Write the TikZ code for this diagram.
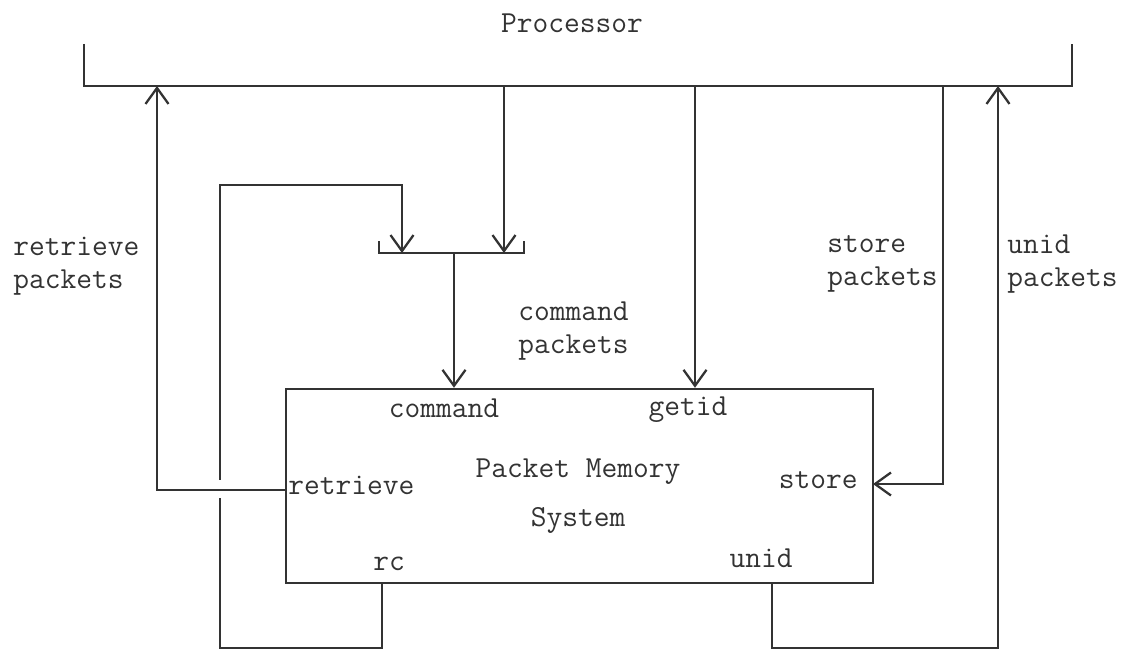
\documentclass[tikz,border=0pt]{standalone}
\usepackage{fontspec}
\usepackage{xcolor}
\definecolor{InkGray}{rgb}{0.2, 0.2, 0.2}
\usetikzlibrary{arrows.meta, positioning}

\begin{document}
\begin{tikzpicture}[
    x=2cm, y=-2cm,
    font=\ttfamily\fontsize{17.4}{18.8}\selectfont,
    >={Straight Barb[length=0.32cm, width=0.46cm, line width=1.3pt]},
    wire/.style={InkGray, line width=1.4pt},
    flow_line/.style={wire, ->},
    pm_box/.style={draw=InkGray, line width=1.4pt, minimum width=11.74cm, minimum height=3.88cm, inner sep=0pt},
    port_label/.style={text=InkGray, inner sep=0pt, text height=0.65em, text depth=0.2em},
    flow_label/.style={text=InkGray, inner sep=0pt, align=left}
]
    \useasboundingbox (0,0) rectangle (11.29,6.54);

    % 1. PROCESSOR BUS
    \node[port_label] (proc) at (5.72,0.29) {Processor};
    \draw[wire] (0.84,0.44) -- (0.84,0.86) -- (10.72,0.86) -- (10.72,0.44);
    \coordinate (tap_ret) at (1.57,0.86);
    \coordinate (tap_cmd) at (5.04,0.86);
    \coordinate (tap_get) at (6.95,0.86);
    \coordinate (tap_sto) at (9.43,0.86);
    \coordinate (tap_unid) at (9.98,0.86);

    % 2. PACKET MEMORY SYSTEM
    \node[pm_box] (pms) at (5.795,4.86) {};
    \node[text=InkGray, align=center] (pm_name) at (5.78,4.96) {Packet Memory\\[9pt]System};
    \node[port_label] (lbl_cmd) at (4.44,4.14) {command};
    \node[port_label] (lbl_get) at (6.88,4.12) {getid};
    \node[port_label, anchor=west] (lbl_ret) at (2.88,4.91) {retrieve};
    \node[port_label, anchor=east] (lbl_sto) at (8.58,4.85) {store};
    \node[port_label] (lbl_rc) at (3.89,5.67) {rc};
    \node[port_label] (lbl_unid) at (7.61,5.64) {unid};
    \coordinate (ret_port) at (2.86,4.90);
    \coordinate (sto_port) at (8.73,4.84);
    \coordinate (rc_port) at (3.82,5.83);
    \coordinate (unid_port) at (7.72,5.83);

    % 3. COMMAND MERGE
    \draw[wire] (3.79,2.41) -- (3.79,2.53) -- (5.24,2.53) -- (5.24,2.41);
    \coordinate (mrg_rc) at (4.02,2.53);
    \coordinate (mrg_cmd) at (5.04,2.53);
    \coordinate (mrg_out) at (4.54,2.53);
    \draw[flow_line] (tap_cmd) -- (mrg_cmd);
    \draw[flow_line] (rc_port) -- ++(0,0.65) -| (2.20,1.85) -| (mrg_rc);
    \draw[flow_line] (mrg_out) -- (mrg_out |- pms.north);
    \node[flow_label, anchor=west] (lbl_cmdp) at (5.18,3.315) {command\\packets};

    % 4. RETRIEVE (crosses the rc loop)
    \draw[white, line width=3pt] (2.20,4.80) -- (2.20,4.98);
    \draw[flow_line] (ret_port) -| (tap_ret);
    \node[flow_label, anchor=west] (lbl_retp) at (0.13,2.665) {retrieve\\packets};

    % 5. GETID, STORE, UNID
    \draw[flow_line] (tap_get) -- (tap_get |- pms.north);
    \draw[flow_line] (tap_sto) |- (sto_port);
    \node[flow_label, anchor=east] (lbl_stop) at (9.38,2.64) {store\\packets};
    \draw[flow_line] (unid_port) -- ++(0,0.65) -| (tap_unid);
    \node[flow_label, anchor=west] (lbl_unidp) at (10.07,2.64) {unid\\packets};

\end{tikzpicture}
\end{document}
